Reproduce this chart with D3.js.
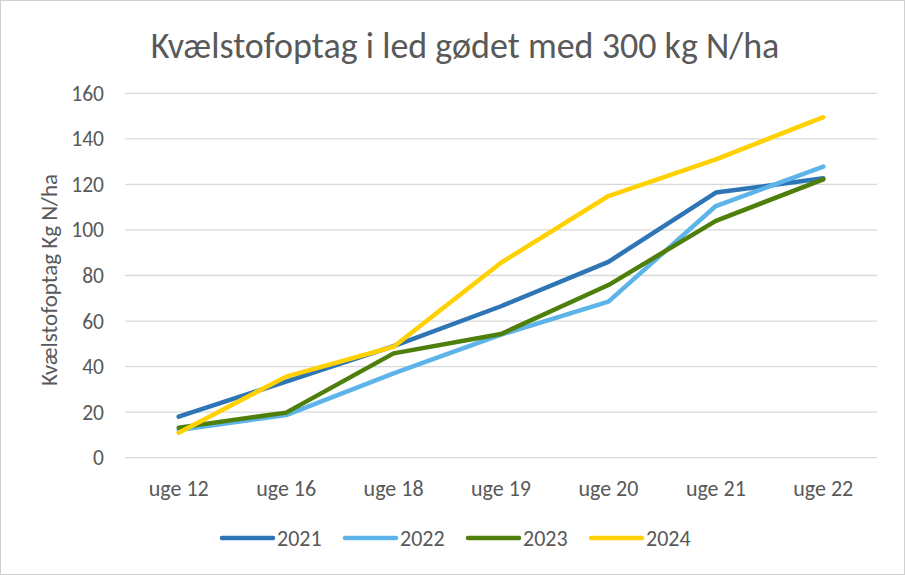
<!DOCTYPE html>
<html>
<head>
<meta charset="utf-8">
<style>
  body { margin: 0; background: #fff; }
  text { font-family: Carlito, "Open Sans", "Noto Sans", sans-serif; fill: #595959; }
  line.grid { stroke: #d9d9d9; stroke-width: 1.3; }
  path.serie { fill: none; stroke-width: 4.5; stroke-linejoin: round; stroke-linecap: round; }
</style>
</head>
<body>
<svg id="chart"></svg>
<script src="https://cdn.jsdelivr.net/npm/d3@7/dist/d3.min.js"></script>
<script>
var weeks = ['uge 12', 'uge 16', 'uge 18', 'uge 19', 'uge 20', 'uge 21', 'uge 22'];
var years = ['2021', '2022', '2023', '2024'];
var v2021 = [18, 33.4, 49, 66.5, 86, 116.4, 122.7];
var v2022 = [12.2, 18.7, 37, 54, 68.5, 110.5, 127.8];
var v2023 = [13.2, 19.8, 45.8, 54.3, 75.8, 104, 122.2];
var v2024 = [11, 35.6, 48.7, 85.6, 114.9, 131, 149.5];
var yTicks = [0, 20, 40, 60, 80, 100, 120, 140, 160];
var colors = ['#2e75b6', '#5db4e8', '#4f7f0b', '#ffd100'];

var series = [v2021, v2022, v2023, v2024];

var width = 905, height = 575;
var plotLeft = 125, plotRight = 877, plotTop = 93.3, plotBottom = 457.7;  // 'top' is taken by window

var svg = d3.select('#chart')
  .attr('width', width)
  .attr('height', height);

// light border round the whole chart
svg.append('rect')
  .attr('x', 0.5).attr('y', 0.5)
  .attr('width', width - 1).attr('height', height - 1)
  .attr('fill', '#fff')
  .attr('stroke', '#d0d0d0');

var x = d3.scalePoint()
  .domain(weeks)
  .range([plotLeft, plotRight])
  .padding(0.5);

var y = d3.scaleLinear()
  .domain([0, 160])
  .range([plotBottom, plotTop]);

svg.selectAll('line.grid')
  .data(yTicks)
  .enter()
  .append('line')
  .attr('class', 'grid')
  .attr('x1', plotLeft)
  .attr('x2', plotRight)
  .attr('y1', d => y(d))
  .attr('y2', d => y(d));

svg.selectAll('text.ytick')
  .data(yTicks)
  .enter()
  .append('text')
  .attr('class', 'ytick')
  .attr('x', 104)
  .attr('y', d => y(d))
  .attr('dy', '0.35em')
  .attr('text-anchor', 'end')
  .style('font-size', '21.5px')
  .text(d => d);

svg.selectAll('text.xtick')
  .data(weeks)
  .enter()
  .append('text')
  .attr('class', 'xtick')
  .attr('x', d => x(d))
  .attr('y', 496)
  .attr('text-anchor', 'middle')
  .style('font-size', '22px')
  .text(d => d);

var line = d3.line()
  .x((d, i) => x(weeks[i]))
  .y(d => y(d));

svg.selectAll('path.serie')
  .data(series)
  .enter()
  .append('path')
  .attr('class', 'serie')
  .attr('stroke', (d, i) => colors[i])
  .attr('d', line);

// title
svg.append('text')
  .attr('x', 465)
  .attr('y', 58)
  .attr('text-anchor', 'middle')
  .style('font-size', '36px')
  .text('Kvælstofoptag i led gødet med 300 kg N/ha');

// y axis title
svg.append('text')
  .attr('transform', 'translate(57,280) rotate(-90)')
  .attr('text-anchor', 'middle')
  .style('font-size', '23px')
  .text('Kvælstofoptag Kg N/ha');

// legend
var legend = svg.selectAll('g.legend')
  .data(years)
  .enter()
  .append('g')
  .attr('class', 'legend')
  .attr('transform', (d, i) => 'translate(' + (222 + i * 123) + ',538)');

legend.append('line')
  .attr('x1', 0).attr('x2', 51)
  .attr('y1', 0).attr('y2', 0)
  .attr('stroke', (d, i) => colors[i])
  .attr('stroke-width', 4.5)
  .attr('stroke-linecap', 'round');

legend.append('text')
  .attr('x', 55)
  .attr('y', 0)
  .attr('dy', '0.35em')
  .style('font-size', '22px')
  .text(d => d);
</script>
</body>
</html>
